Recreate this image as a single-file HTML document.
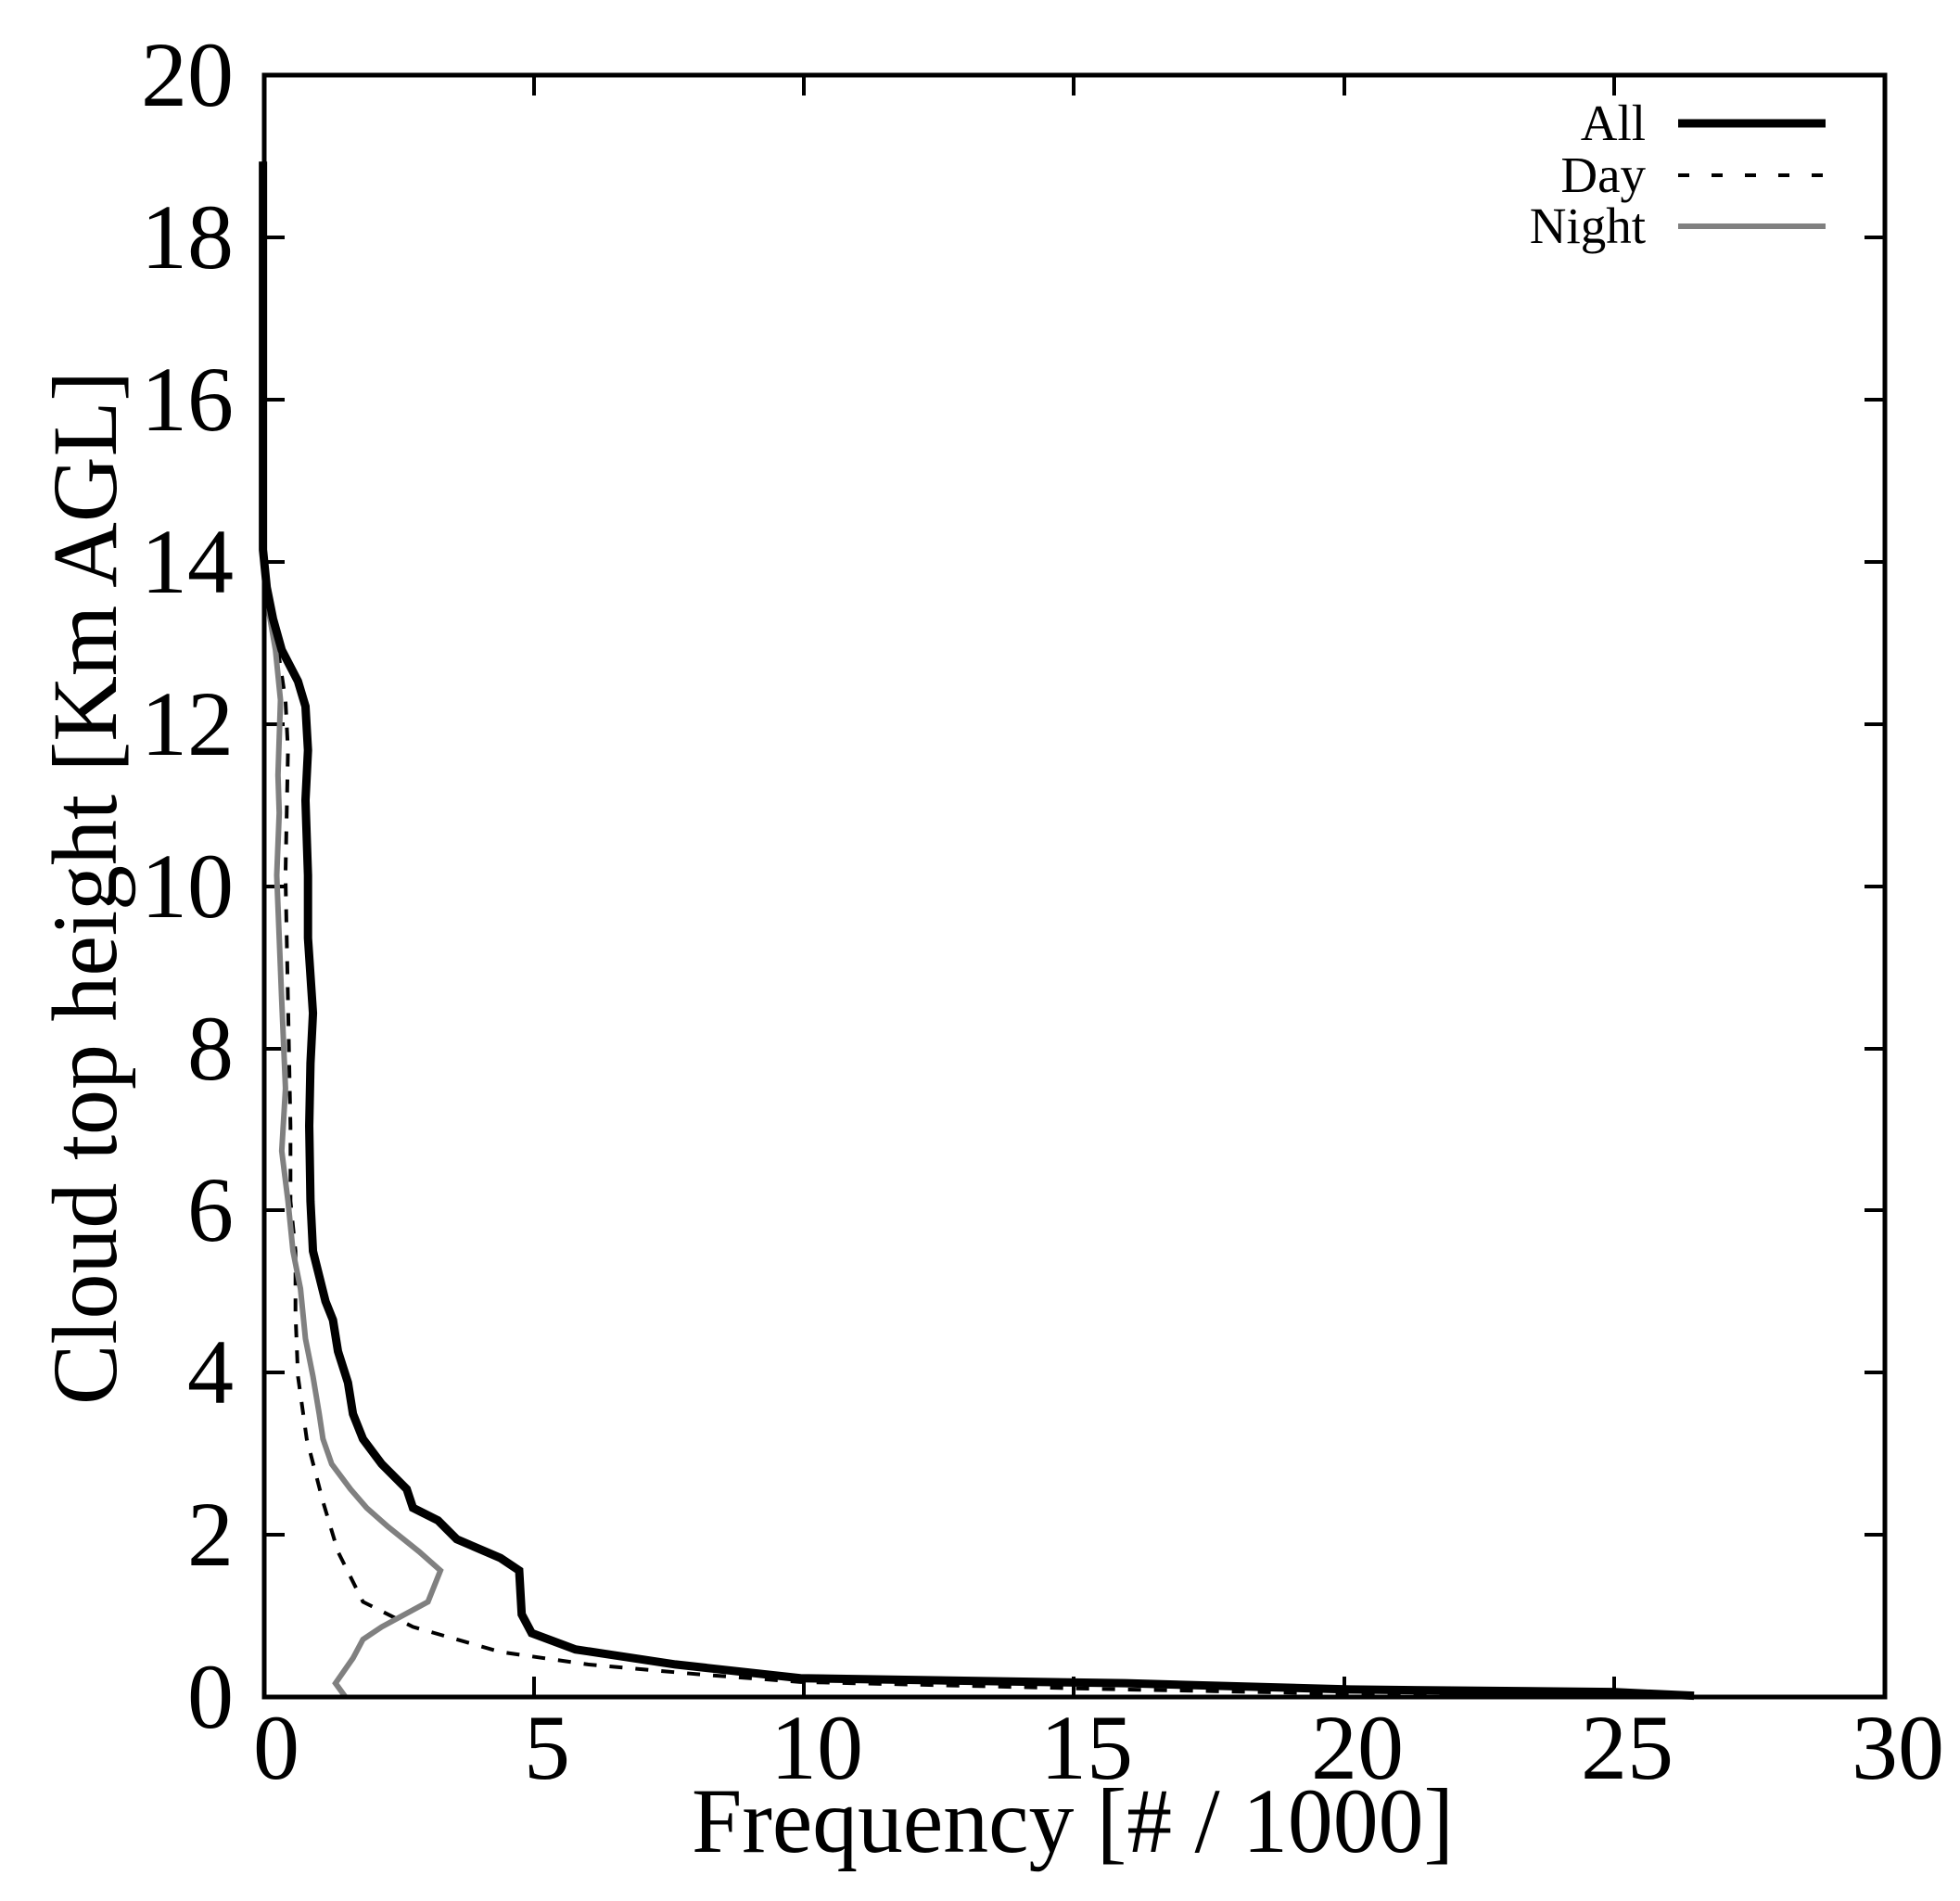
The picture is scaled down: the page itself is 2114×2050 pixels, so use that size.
<!DOCTYPE html>
<html><head><meta charset="utf-8"><style>
html,body{margin:0;padding:0;background:#fff;}
svg{display:block;}
text{font-family:"Liberation Serif",serif;fill:#000;}
</style></head><body>
<svg width="2114" height="2050" viewBox="0 0 2114 2050" xmlns="http://www.w3.org/2000/svg">
<rect width="2114" height="2050" fill="#fff"/>
<g stroke="#000" stroke-width="4">
<line x1="576" y1="1830" x2="576" y2="1808"/><line x1="867" y1="1830" x2="867" y2="1808"/>
<line x1="1158" y1="1830" x2="1158" y2="1808"/><line x1="1450" y1="1830" x2="1450" y2="1808"/>
<line x1="1741" y1="1830" x2="1741" y2="1808"/>
<line x1="576" y1="81" x2="576" y2="103"/><line x1="867" y1="81" x2="867" y2="103"/>
<line x1="1158" y1="81" x2="1158" y2="103"/><line x1="1450" y1="81" x2="1450" y2="103"/>
<line x1="1741" y1="81" x2="1741" y2="103"/>
</g>
<g stroke="#000" stroke-width="4">
<line x1="285" y1="1655" x2="307" y2="1655"/><line x1="2033" y1="1655" x2="2011" y2="1655"/>
<line x1="285" y1="1480" x2="307" y2="1480"/><line x1="2033" y1="1480" x2="2011" y2="1480"/>
<line x1="285" y1="1305" x2="307" y2="1305"/><line x1="2033" y1="1305" x2="2011" y2="1305"/>
<line x1="285" y1="1131" x2="307" y2="1131"/><line x1="2033" y1="1131" x2="2011" y2="1131"/>
<line x1="285" y1="956" x2="307" y2="956"/><line x1="2033" y1="956" x2="2011" y2="956"/>
<line x1="285" y1="781" x2="307" y2="781"/><line x1="2033" y1="781" x2="2011" y2="781"/>
<line x1="285" y1="606" x2="307" y2="606"/><line x1="2033" y1="606" x2="2011" y2="606"/>
<line x1="285" y1="431" x2="307" y2="431"/><line x1="2033" y1="431" x2="2011" y2="431"/>
<line x1="285" y1="256" x2="307" y2="256"/><line x1="2033" y1="256" x2="2011" y2="256"/>
</g>
<g transform="matrix(1.348,0,0,1.3506,0.57,-1.39)" fill="none" stroke-linejoin="miter">
<polyline vector-effect="non-scaling-stroke" stroke="#000" stroke-width="4" stroke-dasharray="14,14" points="212,480 222,520 228,560 230,600 228,700 230,800 232,900 232,960 236,1000 236,1050 238,1100 245,1150 258,1200 270,1240 290,1280 330,1300 400,1320 470,1330 560,1338 640,1344 900,1350 1220,1356"/>
<polyline vector-effect="non-scaling-stroke" stroke="#808080" stroke-width="6" points="210,130 210,430 213,480 220,520 224,560 222,620 223,650 221,700 225,800 228,870 225,920 230,960 234,1000 240,1030 244,1070 250,1100 255,1130 258,1150 265,1170 280,1190 293,1205 310,1220 335,1240 352,1255 342,1280 305,1300 290,1310 282,1325 268,1345 276,1356"/>
<polyline vector-effect="non-scaling-stroke" stroke="#000" stroke-width="9" points="210,130 210,440 213,470 218,495 225,520 238,545 244,565 246,600 244,640 246,700 246,750 250,810 248,850 247,900 248,960 250,1000 255,1020 260,1040 266,1055 270,1080 278,1105 282,1130 290,1150 305,1170 325,1190 330,1205 350,1215 365,1230 400,1245 415,1255 417,1290 425,1305 460,1318 540,1330 640,1341 900,1345 1080,1350 1290,1352 1355,1355"/>
</g>
<rect x="285" y="81" width="1748" height="1749" fill="none" stroke="#000" stroke-width="5"/>
<g font-size="100" text-anchor="end">
<text x="252" y="1863">0</text><text x="252" y="1688">2</text><text x="252" y="1513">4</text>
<text x="252" y="1338">6</text><text x="252" y="1164">8</text><text x="252" y="989">10</text>
<text x="252" y="814">12</text><text x="252" y="639">14</text><text x="252" y="464">16</text>
<text x="252" y="289">18</text><text x="252" y="114">20</text>
</g>
<g font-size="100" text-anchor="middle">
<text x="298" y="1918">0</text><text x="590" y="1918">5</text><text x="881" y="1918">10</text>
<text x="1172" y="1918">15</text><text x="1464" y="1918">20</text><text x="1755" y="1918">25</text>
<text x="2047" y="1918">30</text>
</g>
<text x="746" y="1997" font-size="100" textLength="822" lengthAdjust="spacingAndGlyphs">Frequency [# / 1000]</text>
<text transform="translate(125,1515) rotate(-90)" font-size="100" textLength="1115" lengthAdjust="spacingAndGlyphs">Cloud top height [Km AGL]</text>
<g font-size="55" text-anchor="end">
<text x="1775" y="151">All</text><text x="1775" y="207">Day</text><text x="1775" y="262">Night</text>
</g>
<line x1="1810" y1="133" x2="1969" y2="133" stroke="#000" stroke-width="9"/>
<line x1="1810" y1="189" x2="1969" y2="189" stroke="#000" stroke-width="4" stroke-dasharray="12,24"/>
<line x1="1810" y1="244" x2="1969" y2="244" stroke="#808080" stroke-width="6"/>
</svg>
</body></html>
